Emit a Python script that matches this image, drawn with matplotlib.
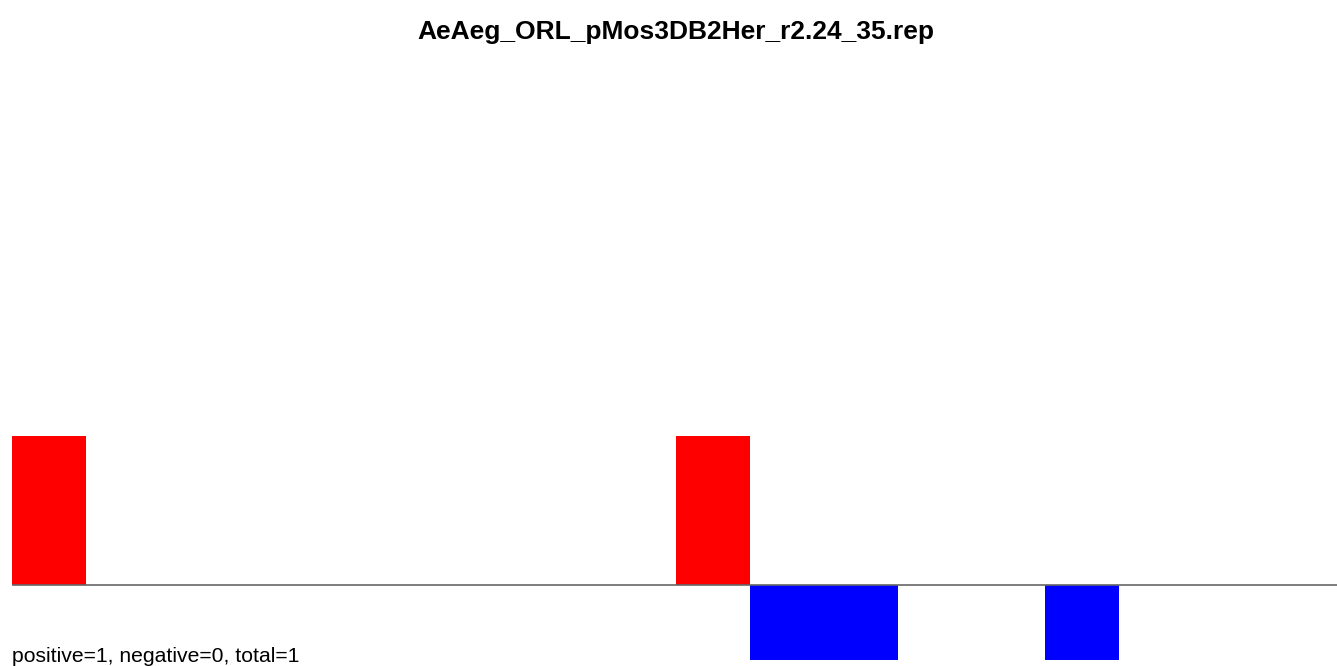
import matplotlib
matplotlib.use("Agg")
import matplotlib.pyplot as plt

plt.rcParams['font.family'] = ['Liberation Sans', 'DejaVu Sans']

title = "AeAeg_ORL_pMos3DB2Her_r2.24_35.rep"
bins = list(range(18))
values = [1, 0, 0, 0, 0, 0, 0, 0, 0, 1, -0.5, -0.5, 0, 0, -0.5, 0, 0, 0]
summary = "positive=1, negative=0, total=1"

W, H = 1337, 666
fig = plt.figure(figsize=(W / 100, H / 100), dpi=100)
# axes spanning x 12..1337 px, y 60..666 px (top-down)
ax = fig.add_axes([12 / W, 0, 1325 / W, (666 - 60) / H])
colors = ['red' if v > 0 else 'blue' for v in values]
ax.bar(bins, values, width=1, align='edge', color=colors, linewidth=0)
ax.axhline(0, color='#666666', linewidth=1.2)
ax.set_xlim(0, 1325 / 73.8)
ax.set_ylim(-81 / 149, 525 / 149)
ax.axis('off')

fig.text(676 / W, 1 - 31.5 / H, title, ha='center', va='center',
         fontsize=19, fontweight='bold')
fig.text(12 / W, 1 - 656 / H, summary, ha='left', va='center', fontsize=15.2)

fig.savefig("out.png", dpi=100)
